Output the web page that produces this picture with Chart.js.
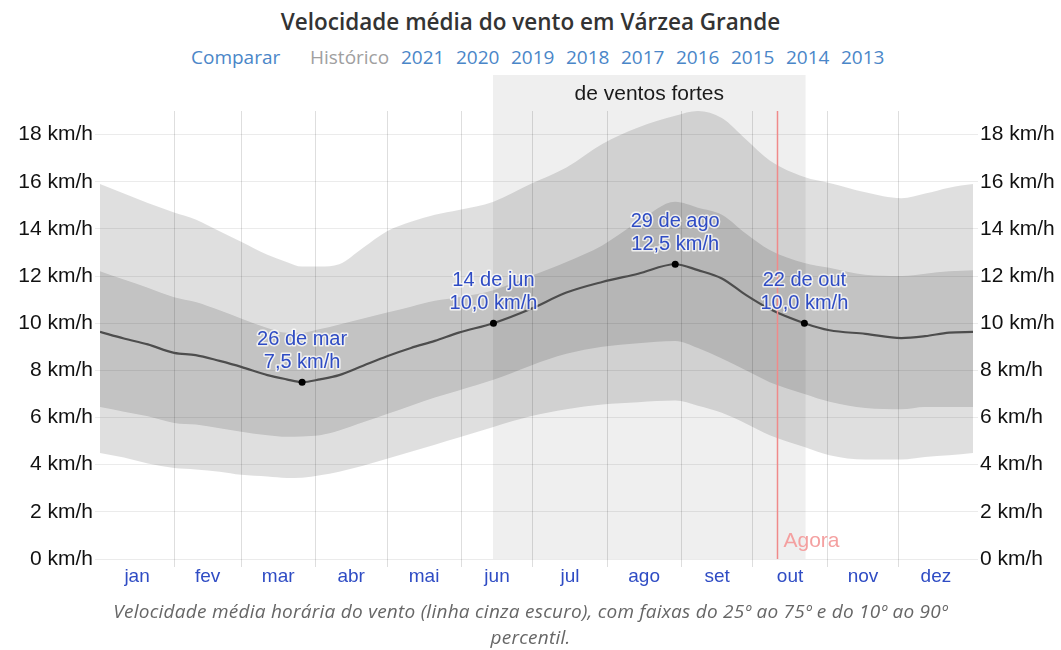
<!DOCTYPE html>
<html lang="pt">
<head>
<meta charset="utf-8">
<title>Velocidade média do vento em Várzea Grande</title>
<script src="https://cdn.jsdelivr.net/npm/chart.js@4/dist/chart.umd.min.js"></script>
<style>
  body { margin: 0; width: 1061px; height: 650px; position: relative; background: #fff; overflow: hidden; }
  #title { position: absolute; top: 6px; left: 0; width: 1061px; text-align: center;
    font: 600 22.5px "Open Sans", sans-serif; color: #333; }
  .lnk { position: absolute; top: 44px; font: 19px "Open Sans", sans-serif; color: #4a86c8; }
  .lnk.gray { color: #a0a0a0; }
  #caption { position: absolute; top: 598px; left: 0; width: 1061px; text-align: center;
    font: italic 19px "Open Sans", sans-serif; letter-spacing: 0.25px; color: #666; line-height: 26px; }
  canvas { position: absolute; left: 0; top: 0; }
</style>
</head>
<body>
<div id="title">Velocidade média do vento em Várzea Grande</div>
<div id="links"></div>
<canvas id="chart" width="1061" height="600"></canvas>
<div id="caption">Velocidade média horária do vento (linha cinza escuro), com faixas do 25º ao 75º e do 10º ao 90º<br>percentil.</div>
<script>
// Wind speed climatology — mean line with 25–75 and 10–90 percentile bands.

const LINKS = ["Comparar", "Histórico", "2021", "2020", "2019", "2018", "2017", "2016", "2015", "2014", "2013"];
const LINK_X = [191, 310, 401, 456, 511, 566, 621, 676, 731, 786, 841];

const MONTHS = ["jan", "fev", "mar", "abr", "mai", "jun", "jul", "ago", "set", "out", "nov", "dez"];
const MONTH_STARTS = [0, 31, 59, 90, 120, 151, 181, 212, 243, 273, 304, 334, 365];
const Y_TICKS = [0, 2, 4, 6, 8, 10, 12, 14, 16, 18];

// day of year (0 = 1 Jan)
const days = [0, 10, 20, 31, 40, 50, 59, 70, 78, 84.5, 92, 100, 110, 120, 130, 140, 150, 164.5,
  180, 195, 210, 225, 240.5, 250, 260, 270, 280, 294.5, 305, 320, 335, 345, 355, 365];
const mean = [9.63, 9.35, 9.1, 8.74, 8.65, 8.4, 8.15, 7.8, 7.62, 7.5, 7.62, 7.8, 8.2, 8.6, 8.95, 9.25, 9.6, 10.0,
  10.6, 11.3, 11.75, 12.1, 12.5, 12.25, 11.9, 11.2, 10.6, 10.0, 9.7, 9.55, 9.37, 9.45, 9.6, 9.63];
const p75 = [12.2, 11.85, 11.5, 11.1, 10.9, 10.55, 10.2, 9.8, 9.6, 9.6, 9.75, 9.95, 10.2, 10.45, 10.7, 10.95, 11.1, 11.4,
  12.0, 12.6, 13.3, 14.3, 15.15, 14.9, 14.6, 13.8, 13.1, 12.55, 12.35, 12.05, 12.0, 12.1, 12.2, 12.25];
const p25 = [6.45, 6.25, 6.05, 5.77, 5.7, 5.55, 5.4, 5.25, 5.18, 5.2, 5.25, 5.45, 5.8, 6.15, 6.5, 6.85, 7.15, 7.6,
  8.2, 8.7, 9.0, 9.15, 9.25, 8.95, 8.5, 8.0, 7.5, 7.0, 6.67, 6.4, 6.35, 6.45, 6.45, 6.45];
const p90 = [15.9, 15.5, 15.1, 14.7, 14.4, 13.9, 13.45, 12.9, 12.6, 12.4, 12.4, 12.5, 13.2, 13.9, 14.3, 14.6, 14.8, 15.15,
  15.9, 16.6, 17.6, 18.3, 18.8, 19.0, 18.7, 17.8, 16.9, 16.2, 15.95, 15.55, 15.3, 15.5, 15.75, 15.9];
const p10 = [4.5, 4.3, 4.05, 3.86, 3.8, 3.7, 3.57, 3.5, 3.44, 3.45, 3.55, 3.7, 3.95, 4.25, 4.55, 4.85, 5.15, 5.6,
  6.05, 6.35, 6.55, 6.65, 6.72, 6.5, 6.2, 5.75, 5.25, 4.75, 4.4, 4.22, 4.22, 4.33, 4.4, 4.5];

const annoDays = [84.5, 164.5, 240.5, 294.5];
const annoValues = [7.5, 10.0, 12.5, 10.0];
const annoDates = ["26 de mar", "14 de jun", "29 de ago", "22 de out"];

const WINDY_START = 164.3;
const WINDY_END = 295;
const WINDY_LABEL = "de ventos fortes";
const NOW_DAY = 283;

const BLUE = "#2f4cc4";

const linksEl = document.getElementById("links");
LINKS.forEach((t, i) => {
  const s = document.createElement("span");
  s.className = "lnk" + (t === "Histórico" ? " gray" : "");
  s.style.left = LINK_X[i] + "px";
  s.textContent = t;
  linksEl.appendChild(s);
});

function pts(ys) {
  return days.map((d, i) => ({ x: d, y: ys[i] }));
}

const fmtNum = (v) => v.toFixed(1).replace(".", ",");

const decor = {
  id: "decor",
  beforeDraw(chart) {
    const { ctx, chartArea, scales: { x } } = chart;
    const x1 = x.getPixelForValue(WINDY_START);
    const x2 = x.getPixelForValue(WINDY_END);
    const top = chartArea.top - 36;
    ctx.save();
    ctx.fillStyle = "#efefef";
    ctx.fillRect(x1, top, x2 - x1, chartArea.bottom - top);
    ctx.fillStyle = "#1a1a1a";
    ctx.font = "21px 'Liberation Sans', Arial, sans-serif";
    ctx.textAlign = "center";
    ctx.textBaseline = "middle";
    ctx.fillText(WINDY_LABEL, (x1 + x2) / 2, top + 19);
    ctx.restore();
  },
  afterDatasetsDraw(chart) {
    const { ctx, chartArea, scales: { x, y } } = chart;
    ctx.save();
    // "Agora" marker
    const nx = Math.round(x.getPixelForValue(NOW_DAY)) + 0.5;
    ctx.strokeStyle = "#f08a8a";
    ctx.lineWidth = 1.5;
    ctx.beginPath();
    ctx.moveTo(nx, chartArea.top);
    ctx.lineTo(nx, chartArea.bottom);
    ctx.stroke();
    ctx.fillStyle = "#f4a0a0";
    ctx.font = "21px 'Liberation Sans', Arial, sans-serif";
    ctx.textAlign = "left";
    ctx.textBaseline = "middle";
    ctx.fillText("Agora", nx + 6, chartArea.bottom - 18);

    // annotation labels
    ctx.font = "20px 'Liberation Sans', Arial, sans-serif";
    ctx.textAlign = "center";
    ctx.lineJoin = "round";
    annoDays.forEach((d, i) => {
      const px = x.getPixelForValue(d);
      const py = y.getPixelForValue(annoValues[i]);
      const lines = [annoDates[i], fmtNum(annoValues[i]) + " km/h"];
      lines.forEach((t, j) => {
        const ly = py - 43 + j * 23;
        ctx.strokeStyle = "rgba(255,255,255,0.75)";
        ctx.lineWidth = 3;
        ctx.strokeText(t, px, ly);
        ctx.fillStyle = BLUE;
        ctx.fillText(t, px, ly);
      });
    });
    ctx.restore();
  },
};

const gridDays = MONTH_STARTS.slice(1, -1);
const midDays = MONTHS.map((m, i) => (MONTH_STARTS[i] + MONTH_STARTS[i + 1]) / 2);
const xTicks = [...gridDays, ...midDays].sort((a, b) => a - b);

const yAxis = (pos) => ({
  type: "linear",
  position: pos,
  min: 0,
  max: 19,
  afterBuildTicks: (s) => { s.ticks = Y_TICKS.map((v) => ({ value: v })); },
  afterFit: (s) => { s.width = pos === "left" ? 100 : 88; },
  border: { display: false },
  grid: {
    color: "rgba(0,0,0,0.08)",
    drawOnChartArea: pos === "left",
    tickLength: 5,
  },
  ticks: {
    color: "#111",
    padding: 2,
    font: { family: "'Liberation Sans', Arial, sans-serif", size: 21 },
    callback: (v) => `${v} km/h`,
  },
});

new Chart(document.getElementById("chart").getContext("2d"), {
  type: "line",
  data: {
    datasets: [
      {
        label: "destaques",
        data: annoDays.map((d, i) => ({ x: d, y: annoValues[i] })),
        showLine: false,
        pointRadius: 3.5,
        pointBackgroundColor: "#000",
        pointBorderWidth: 0,
      },
      {
        label: "média",
        data: pts(mean),
        borderColor: "#4d4d4d",
        borderWidth: 2.2,
        pointRadius: 0,
        cubicInterpolationMode: "monotone",
      },
      {
        label: "p75",
        data: pts(p75),
        borderWidth: 0,
        pointRadius: 0,
        fill: { target: 3 },
        backgroundColor: "rgba(0,0,0,0.13)",
        cubicInterpolationMode: "monotone",
      },
      {
        label: "p25",
        data: pts(p25),
        borderWidth: 0,
        pointRadius: 0,
        fill: false,
        cubicInterpolationMode: "monotone",
      },
      {
        label: "p90",
        data: pts(p90),
        borderWidth: 0,
        pointRadius: 0,
        fill: { target: 5 },
        backgroundColor: "rgba(0,0,0,0.125)",
        cubicInterpolationMode: "monotone",
      },
      {
        label: "p10",
        data: pts(p10),
        borderWidth: 0,
        pointRadius: 0,
        fill: false,
        cubicInterpolationMode: "monotone",
      },
    ],
  },
  options: {
    responsive: false,
    animation: false,
    layout: { padding: { top: 111, left: 0, right: 0, bottom: 0 } },
    plugins: { legend: { display: false }, tooltip: { enabled: false } },
    scales: {
      x: {
        type: "linear",
        min: 0,
        max: 365,
        afterBuildTicks: (s) => { s.ticks = xTicks.map((v) => ({ value: v })); },
        afterFit: (s) => { s.height = 41; },
        border: { display: false },
        grid: {
          color: (c) => (c.tick && gridDays.includes(c.tick.value) ? "rgba(0,0,0,0.13)" : "rgba(0,0,0,0)"),
          tickLength: 8,
        },
        ticks: {
          autoSkip: false,
          maxRotation: 0,
          padding: -2,
          color: BLUE,
          font: { family: "'Liberation Sans', Arial, sans-serif", size: 19 },
          callback: (v) => {
            const i = midDays.indexOf(v);
            return i >= 0 ? MONTHS[i] : "";
          },
        },
      },
      y: yAxis("left"),
      y2: yAxis("right"),
    },
  },
  plugins: [decor],
});
</script>
</body>
</html>
